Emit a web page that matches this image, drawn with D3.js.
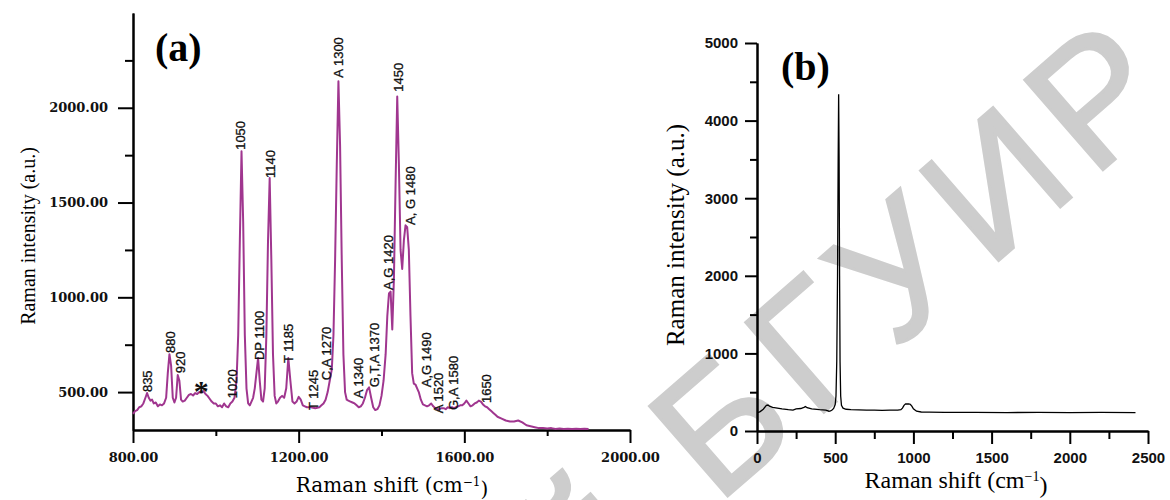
<!DOCTYPE html>
<html>
<head>
<meta charset="utf-8">
<script src="https://cdn.jsdelivr.net/npm/d3@7"></script>
<style>
  body { margin: 0; background: #fff; }
</style>
</head>
<body>
<svg id="chart" width="1170" height="500"></svg>
<script>
// ---- panel (a): DNA spectrum ----
const shiftA = [800, 805, 810, 815, 820, 825, 830, 834, 838, 842, 846, 850, 855, 860, 865, 870, 875, 880, 884, 888,
  892, 896, 900, 904, 908, 912, 916, 920, 925, 930, 935, 940, 945, 950, 955, 960, 965, 970, 975, 980,
  985, 990, 995, 1000, 1005, 1010, 1015, 1020, 1025, 1030, 1035, 1040, 1045, 1050, 1054, 1058, 1062, 1066, 1070, 1074,
  1078, 1082, 1086, 1090, 1094, 1098, 1102, 1106, 1110, 1114, 1118, 1122, 1126, 1130, 1134, 1138, 1142, 1146, 1150, 1155,
  1160, 1165, 1170, 1175, 1180, 1185, 1190, 1195, 1200, 1205, 1210, 1215, 1220, 1230, 1240, 1250, 1255, 1260, 1265, 1270,
  1275, 1280, 1284, 1288, 1292, 1296, 1300, 1304, 1308, 1312, 1316, 1320, 1325, 1330, 1335, 1340, 1345, 1350, 1355, 1360,
  1365, 1370, 1375, 1380, 1385, 1390, 1395, 1400, 1405, 1410, 1414, 1418, 1422, 1426, 1430, 1434, 1438, 1442, 1446, 1450,
  1454, 1458, 1462, 1466, 1470, 1474, 1478, 1482, 1486, 1490, 1495, 1500, 1505, 1510, 1515, 1520, 1525, 1530, 1535, 1540,
  1545, 1550, 1555, 1560, 1565, 1570, 1575, 1580, 1585, 1590, 1595, 1600, 1605, 1610, 1615, 1620, 1625, 1630, 1635, 1640,
  1645, 1650, 1655, 1660, 1665, 1670, 1675, 1680, 1690, 1700, 1710, 1720, 1730, 1740, 1750, 1760, 1770, 1780, 1790, 1800,
  1810, 1820, 1830, 1840, 1850, 1860, 1870, 1880, 1890, 1900];
const intensityA = [385, 400, 405, 420, 425, 440, 470, 495, 470, 455, 460, 440, 445, 425, 435, 430, 440, 470, 600, 700,
  640, 470, 445, 470, 590, 560, 460, 450, 455, 470, 485, 490, 482, 495, 490, 500, 498, 505, 490, 480,
  465, 450, 440, 440, 425, 430, 420, 440, 425, 420, 440, 450, 470, 560, 800, 1300, 1770, 1400, 800, 520,
  440, 430, 450, 470, 520, 600, 680, 560, 460, 450, 520, 800, 1300, 1630, 1200, 700, 480, 440, 450, 470,
  480, 470, 520, 680, 560, 450, 440, 450, 475, 460, 430, 425, 420, 420, 415, 420, 430, 440, 460, 500,
  560, 620, 800, 1200, 1700, 2140, 1800, 1200, 700, 500, 460, 455, 450, 445, 440, 430, 420, 425, 440, 470,
  510, 525, 470, 420, 405, 410, 430, 480, 560, 700, 900, 1020, 1030, 830, 1100, 1600, 2060, 1700, 1250, 1150,
  1300, 1380, 1370, 1250, 900, 600, 545, 540, 520, 500, 460, 435, 430, 425, 430, 440, 425, 415, 410, 410,
  415, 415, 410, 420, 415, 420, 415, 420, 425, 430, 430, 440, 455, 440, 425, 430, 440, 445, 455, 450,
  435, 425, 420, 410, 400, 390, 380, 370, 360, 350, 345, 345, 350, 340, 325, 320, 315, 310, 310, 308,
  310, 305, 308, 305, 307, 305, 306, 305, 306, 305];

// peak annotations: text, shift of the label column, intensity where the label starts
const peakText  = ["835", "880", "920", "1020", "1050", "DP 1100", "1140", "T 1185", "T 1245", "C,A 1270", "A 1300",
  "A 1340", "G,T,A 1370", "A,G 1420", "1450", "A, G 1480", "A,G 1490", "A 1520", "G,A 1580", "1650"];
const peakShift = [836, 890, 914, 1040, 1059, 1105, 1132, 1176, 1236, 1268, 1297,
  1345, 1384, 1418, 1442, 1471, 1508, 1537, 1573, 1653];
const peakLevel = [500, 706, 600, 468, 1778, 669, 1630, 653, 405, 563, 2159,
  468, 526, 1039, 2085, 1382, 526, 389, 405, 442];

const ticksA_y = [500, 1000, 1500, 2000];
const minorA_y = [750, 1250, 1750, 2250];
const ticksA_x = [800, 1200, 1600, 2000];
const minorA_x = [1000, 1400, 1800];

// ---- panel (b): substrate spectrum ----
const shiftB = [0, 10, 20, 40, 60, 70, 80, 100, 130, 160, 200, 230, 250, 280, 300, 310, 320, 350, 400, 440,
  460, 470, 480, 490, 500, 505, 510, 515, 519, 522, 525, 528, 531, 535, 540, 550, 570, 600, 650, 700,
  750, 800, 850, 900, 920, 930, 940, 950, 960, 970, 980, 990, 1000, 1020, 1050, 1100, 1200, 1400, 1600, 1800,
  2000, 2200, 2420];
const intensityB = [240, 240, 250, 280, 330, 335, 320, 305, 295, 285, 275, 270, 285, 290, 305, 315, 300, 285, 275, 270,
  255, 260, 270, 290, 340, 450, 900, 2000, 3500, 4340, 3500, 2000, 900, 450, 330, 295, 280, 275, 272, 270,
  268, 265, 268, 270, 275, 295, 330, 350, 348, 350, 345, 320, 285, 255, 245, 242, 240, 240, 238, 240,
  238, 240, 238];

const ticksB_y = [0, 1000, 2000, 3000, 4000, 5000];
const minorB_y = [500, 1500, 2500, 3500, 4500];
const ticksB_x = [0, 500, 1000, 1500, 2000, 2500];
const minorB_x = [250, 750, 1250, 1750, 2250];

const svg = d3.select("#chart");
svg.append("rect").attr("width", 1170).attr("height", 500).attr("fill", "#fff");

// repository watermark behind everything
svg.append("text")
    .attr("transform", "translate(1190,94) rotate(-41)")
    .attr("text-anchor", "end")
    .style("font-family", "Liberation Sans, Arial, sans-serif")
    .style("font-size", "173px")
    .style("letter-spacing", "14px")
    .attr("fill", "#cdcdcd")
    .attr("stroke", "#cdcdcd")
    .attr("stroke-width", 3)
    .text("Репозиторий БГУИР");

function styleAxis(g, font, size, weight) {
    g.selectAll("path.domain").attr("stroke", "#000").attr("stroke-width", 2);
    g.selectAll(".tick line").attr("stroke", "#000").attr("stroke-width", 2);
    g.selectAll(".tick text")
        .attr("fill", "#111")
        .style("font-family", font)
        .style("font-size", size)
        .style("font-weight", weight);
}

// ================= panel (a) =================
let xA = d3.scaleLinear().domain([800, 2000]).range([133, 630]);
let yA = d3.scaleLinear().domain([300, 2500]).range([430, 13]);

const serifBold = "DejaVu Serif, serif";

let yAxisA = svg.append("g").attr("transform", "translate(133,0)")
    .call(d3.axisLeft(yA).tickValues(ticksA_y).tickFormat(d3.format(".2f")).tickSize(15).tickSizeOuter(0).tickPadding(10));
styleAxis(yAxisA, serifBold, "13px", "bold");
let yMinorA = svg.append("g").attr("transform", "translate(133,0)")
    .call(d3.axisLeft(yA).tickValues(minorA_y).tickFormat("").tickSize(8).tickSizeOuter(0));
styleAxis(yMinorA, serifBold, "13px", "bold");

let xAxisA = svg.append("g").attr("transform", "translate(0,430)")
    .call(d3.axisBottom(xA).tickValues(ticksA_x).tickFormat(d3.format(".2f")).tickSize(13).tickSizeOuter(0).tickPadding(10));
styleAxis(xAxisA, serifBold, "13px", "bold");
let xMinorA = svg.append("g").attr("transform", "translate(0,430)")
    .call(d3.axisBottom(xA).tickValues(minorA_x).tickFormat("").tickSize(6).tickSizeOuter(0));
styleAxis(xMinorA, serifBold, "13px", "bold");

let lineA = d3.line().x((d, i) => xA(shiftA[i])).y(d => yA(d));
svg.append("path")
    .datum(intensityA)
    .attr("d", lineA)
    .attr("fill", "none")
    .attr("stroke", "#a0368f")
    .attr("stroke-width", 2)
    .attr("stroke-linejoin", "round");

svg.append("g").selectAll("text")
    .data(peakText)
    .enter()
    .append("text")
    .attr("transform", (d, i) => `translate(${xA(peakShift[i]) + 4.5}, ${yA(peakLevel[i])}) rotate(-90)`)
    .style("text-anchor", "start")
    .style("font-family", "Liberation Sans, Arial, sans-serif")
    .style("font-size", "13px")
    .attr("fill", "#111")
    .attr("stroke", "#111")
    .attr("stroke-width", 0.3)
    .text(d => d);

// the asterisk over the broad band
svg.append("text")
    .attr("x", xA(965)).attr("y", yA(452))
    .style("text-anchor", "middle")
    .style("font-family", "Liberation Serif, serif")
    .style("font-size", "30px")
    .style("font-weight", "bold")
    .attr("fill", "#111")
    .text("*");

svg.append("text")
    .attr("x", 155).attr("y", 61)
    .style("font-family", "Liberation Serif, serif")
    .style("font-size", "40px")
    .style("font-weight", "bold")
    .text("(a)");

svg.append("text")
    .attr("transform", "translate(35,236) rotate(-90)")
    .style("text-anchor", "middle")
    .style("font-family", "Liberation Serif, serif")
    .style("font-size", "20px")
    .text("Raman intensity (a.u.)");

let xTitleA = svg.append("text")
    .attr("x", 392).attr("y", 492)
    .style("text-anchor", "middle")
    .style("font-family", "DejaVu Serif, serif")
    .style("font-size", "20px");
xTitleA.append("tspan").text("Raman shift (cm");
xTitleA.append("tspan").attr("dy", "-0.5em").style("font-size", "12px").text("\u22121");
xTitleA.append("tspan").attr("dy", "0.5em").text(")");

// ================= panel (b) =================
let xB = d3.scaleLinear().domain([0, 2500]).range([757, 1148]);
let yB = d3.scaleLinear().domain([0, 5000]).range([431, 43]);

const sansBold = "Liberation Sans, Arial, sans-serif";

let yAxisB = svg.append("g").attr("transform", "translate(757,0)")
    .call(d3.axisLeft(yB).tickValues(ticksB_y).tickFormat(d3.format("d")).tickSize(12).tickSizeOuter(0).tickPadding(7));
styleAxis(yAxisB, sansBold, "15px", "bold");
let yMinorB = svg.append("g").attr("transform", "translate(757,0)")
    .call(d3.axisLeft(yB).tickValues(minorB_y).tickFormat("").tickSize(7).tickSizeOuter(0));
styleAxis(yMinorB, sansBold, "15px", "bold");

let xAxisB = svg.append("g").attr("transform", "translate(0,431)")
    .call(d3.axisBottom(xB).tickValues(ticksB_x).tickFormat(d3.format("d")).tickSize(13).tickSizeOuter(0).tickPadding(8));
styleAxis(xAxisB, sansBold, "15px", "bold");
let xMinorB = svg.append("g").attr("transform", "translate(0,431)")
    .call(d3.axisBottom(xB).tickValues(minorB_x).tickFormat("").tickSize(8).tickSizeOuter(0));
styleAxis(xMinorB, sansBold, "15px", "bold");

let lineB = d3.line().x((d, i) => xB(shiftB[i])).y(d => yB(d));
svg.append("path")
    .datum(intensityB)
    .attr("d", lineB)
    .attr("fill", "none")
    .attr("stroke", "#000")
    .attr("stroke-width", 1.3);

svg.append("text")
    .attr("x", 781).attr("y", 80)
    .style("font-family", "Liberation Serif, serif")
    .style("font-size", "40px")
    .style("font-weight", "bold")
    .text("(b)");

svg.append("text")
    .attr("transform", "translate(684,235) rotate(-90)")
    .style("text-anchor", "middle")
    .style("font-family", "Liberation Serif, serif")
    .style("font-size", "25px")
    .text("Raman intensity (a.u.)");

let xTitleB = svg.append("text")
    .attr("x", 956).attr("y", 488)
    .style("text-anchor", "middle")
    .style("font-family", "Liberation Serif, serif")
    .style("font-size", "24px");
xTitleB.append("tspan").text("Raman shift (cm");
xTitleB.append("tspan").attr("dy", "-0.5em").style("font-size", "14px").text("\u22121");
xTitleB.append("tspan").attr("dy", "0.5em").text(")");
</script>
</body>
</html>
